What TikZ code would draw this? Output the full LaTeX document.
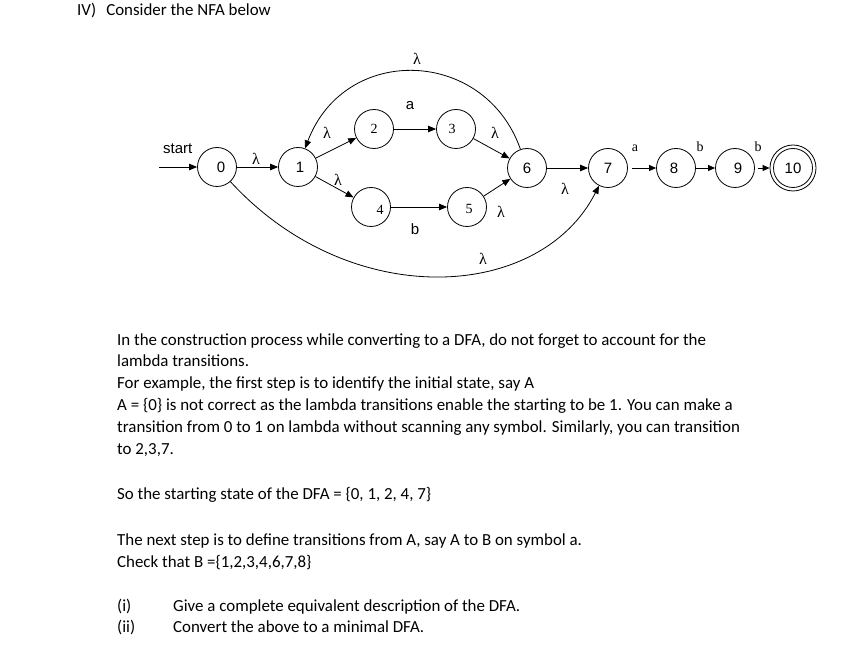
\documentclass[tikz,border=0pt]{standalone}
\usepackage{fontspec}
\setmainfont{Carlito}
\newfontfamily\dsans{Liberation Sans}
\newfontfamily\dserif{Liberation Serif}
\usetikzlibrary{arrows.meta}
\begin{document}
\begin{tikzpicture}[x=1pt,y=-1pt,
  st/.style={draw,circle,minimum size=39pt,inner sep=0pt,line width=0.8pt},
  arr/.style={line width=0.8pt,-{Triangle[length=8pt,width=6.5pt]}},
  sarr/.style={line width=0.8pt,-{Triangle[length=7pt,width=6pt]}},
  ln/.style={line width=0.8pt},
  lam/.style={font=\dserif\fontsize{16}{16}\selectfont},
  sl/.style={font=\dsans\fontsize{15}{15}\selectfont},
  tl/.style={font=\dserif\fontsize{14}{14}\selectfont},
  txt/.style={anchor=base west,inner sep=0pt,font=\fontsize{16.9}{20}\selectfont}]
\useasboundingbox (0,0) rectangle (863,660);
% states
\node[st,label={[sl,xshift=4pt]center:0}] (n0) at (217,167) {};
\node[st,label={[sl,xshift=2pt]center:1}] (n1) at (298,167) {};
\node[st,label={[tl]center:2}] (n2) at (374,129) {};
\node[st,label={[tl,xshift=-4pt]center:3}] (n3) at (456,129) {};
\node[st,label={[tl,xshift=9pt,yshift=-3pt]center:4}] (n4) at (371,207) {};
\node[st,label={[tl,xshift=2pt,yshift=-2pt]center:5}] (n5) at (467,207) {};
\node[st,label={[sl]center:6}] (n6) at (527,168) {};
\node[st,label={[sl]center:7}] (n7) at (608,168) {};
\node[st,label={[sl,xshift=-2pt]center:8}] (n8) at (676,168) {};
\node[st,label={[sl,xshift=3pt]center:9}] (n9) at (735,168) {};
\node[st,minimum size=46pt,label={[sl]center:10}] (n10) at (793,168) {};
\draw[ln] (n10.center) circle[radius=19.5pt];
% start
\coordinate (s) at (159,167);
\node[sl,anchor=south west,inner sep=0pt] (startlbl) at (163,154) {start};
\draw[arr] (s) -- (n0);
% edges
\draw[arr] (n0) -- (n1);
\draw[arr] (n1) -- (n2);
\draw[arr] (n1) -- (n4);
\draw[arr] (n2) -- (n3);
\draw[arr] (n4) -- (n5);
\draw[arr] (n3) -- (n6);
\draw[arr] (n5) -- (n6);
\draw[arr] (n6) .. controls (485,48) and (345,43) .. (n1);
\draw[arr] (n0) .. controls (350,312) and (540,302) .. (n7);
\draw[arr] (n6) -- (n7);
\draw[sarr,shorten <=4pt] (n7) -- (n8);
\draw[sarr] (n8) -- (n9);
\draw[sarr,shorten <=3pt] (n9) -- (n10);
% edge labels
\node[lam] (l01) at (256,159) {λ};
\node[lam] (l12) at (327,133) {λ};
\node[lam] (l14) at (338,180) {λ};
\node[sl] (la23) at (410,106) {a};
\node[sl] (lb45) at (415,229) {b};
\node[lam] (l36) at (495,133) {λ};
\node[lam] (l56) at (501,212) {λ};
\node[lam] (ltop) at (417,59) {λ};
\node[lam] (lbot) at (483,259) {λ};
\node[lam] (l67) at (565,189) {λ};
\node[tl] (la78) at (635,148) {a};
\node[tl] (lb89) at (700,147) {b};
\node[tl] (lb910) at (758,147) {b};
% text
\node[txt] (title) at (77,16) {IV)\hspace{0.6em}Consider the NFA below};
\node[txt] (t1) at (117,346) {In the construction process while converting to a DFA, do not forget to account for the};
\node[txt] (t2) at (117,367) {lambda transitions.};
\node[txt] (t3) at (117,389) {For example, the first step is to identify the initial state, say A};
\node[txt] (t4) at (117,411) {A = \{0\} is not correct as the lambda transitions enable the starting to be 1. You can make a};
\node[txt] (t5) at (117,433) {transition from 0 to 1 on lambda without scanning any symbol. Similarly, you can transition};
\node[txt] (t6) at (117,455) {to 2,3,7.};
\node[txt] (t7) at (117,500) {So the starting state of the DFA = \{0, 1, 2, 4, 7\}};
\node[txt] (t8) at (117,545) {The next step is to define transitions from A, say A to B on symbol a.};
\node[txt] (t9) at (117,567) {Check that B =\{1,2,3,4,6,7,8\}};
\node[txt] (i1) at (117,611) {(i)};
\node[txt] (g1) at (173,611) {Give a complete equivalent description of the DFA.};
\node[txt] (i2) at (117,632) {(ii)};
\node[txt] (g2) at (173,632) {Convert the above to a minimal DFA.};
\end{tikzpicture}
\end{document}
